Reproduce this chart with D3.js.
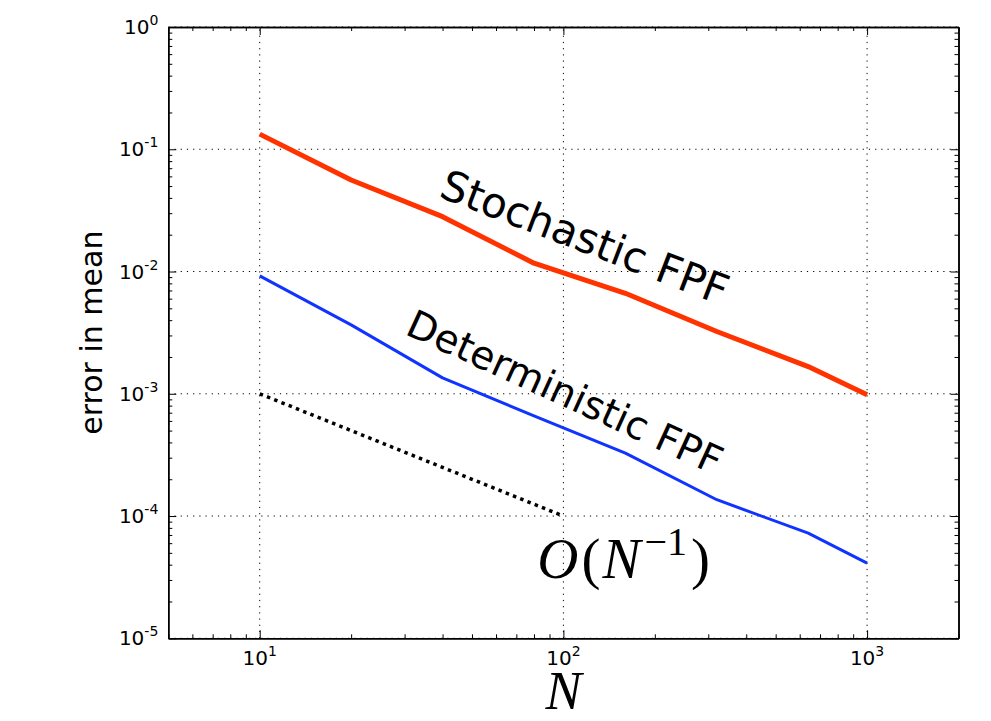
<!DOCTYPE html>
<html>
<head>
<meta charset="utf-8">
<script src="https://cdn.jsdelivr.net/npm/d3@7"></script>
<style>
  body { margin: 0; background: #fff; }
  .grid line { stroke: #000; stroke-width: 1; stroke-dasharray: 1.2,5; }
  .axis path, .axis line { stroke: #000; }
  .axis path { stroke-width: 1.5; }
  text { font-family: "DejaVu Sans", sans-serif; fill: #000; }
</style>
</head>
<body>
<div id="chartArea"></div>
<script>
// data
let nValues = [10, 20, 40, 80, 160, 320, 640, 1000];
let stochasticErr = [0.133, 0.056, 0.0281, 0.0117, 0.00664, 0.00323, 0.00167, 0.00098];
let deterministicErr = [0.0092, 0.00366, 0.00135, 0.00066, 0.000327, 0.000136, 0.0000724, 0.0000412];
let refN = [10, 100];
let refErr = [1e-3, 1e-4];

let xTickExps = [1, 2, 3];
let yTickExps = [0, -1, -2, -3, -4, -5];

function drawGraph() {

    let width = 991, height = 721;
    let margins = { top: 27, right: 32.5, bottom: 82.7, left: 168.3 };

    let svg = d3.select('#chartArea')
        .append('svg')
            .attr('width', width)
            .attr('height', height);

    let xScale = d3.scaleLog()
        .domain([5, 2000])
        .range([margins.left, width - margins.right]);

    let yScale = d3.scaleLog()
        .domain([1e-5, 1])
        .range([height - margins.bottom, margins.top]);

    let x0 = margins.left, x1 = width - margins.right;
    let y0 = height - margins.bottom, y1 = margins.top;

    let isMajor = v => Math.abs(Math.log10(v) - Math.round(Math.log10(v))) < 1e-9;
    let xMajor = xScale.ticks().filter(isMajor);
    let xMinor = xScale.ticks().filter(v => !isMajor(v));
    let yMajor = yScale.ticks().filter(isMajor);
    let yMinor = yScale.ticks().filter(v => !isMajor(v));

    // grid lines (dotted)
    let grid = svg.append('g').attr('class', 'grid');
    grid.selectAll('.gx')
        .data(xMajor)
        .enter().append('line')
            .attr('x1', d => xScale(d)).attr('x2', d => xScale(d))
            .attr('y1', y0).attr('y2', y1);
    grid.selectAll('.gy')
        .data(yMajor)
        .enter().append('line')
            .attr('y1', d => yScale(d)).attr('y2', d => yScale(d))
            .attr('x1', x0).attr('x2', x1);

    // clip for the data lines
    svg.append('clipPath').attr('id', 'plotClip')
        .append('rect')
            .attr('x', x0).attr('y', y1)
            .attr('width', x1 - x0).attr('height', y0 - y1);

    let line = d3.line()
        .x(d => xScale(d[0]))
        .y(d => yScale(d[1]));

    let plot = svg.append('g').attr('clip-path', 'url(#plotClip)');

    plot.append('path')
        .attr('d', line(d3.zip(refN, refErr)))
        .attr('fill', 'none')
        .attr('stroke', '#000')
        .attr('stroke-width', 3.5)
        .attr('stroke-dasharray', '3.5,4.3');

    plot.append('path')
        .attr('d', line(d3.zip(nValues, deterministicErr)))
        .attr('fill', 'none')
        .attr('stroke', '#1133ff')
        .attr('stroke-width', 3)
        .attr('stroke-linejoin', 'round');

    plot.append('path')
        .attr('d', line(d3.zip(nValues, stochasticErr)))
        .attr('fill', 'none')
        .attr('stroke', '#ff3300')
        .attr('stroke-width', 5)
        .attr('stroke-linejoin', 'round');

    // axes on all four sides, ticks pointing in
    let noLabel = () => '';
    let addAxis = (axisFn, scale, transform, major, minor) => {
        svg.append('g')
            .attr('class', 'axis')
            .attr('transform', transform)
            .call(axisFn(scale).tickValues(minor).tickSize(-4).tickSizeOuter(0).tickFormat(noLabel));
        svg.append('g')
            .attr('class', 'axis')
            .attr('transform', transform)
            .call(axisFn(scale).tickValues(major).tickSize(-8).tickSizeOuter(0).tickFormat(noLabel));
    };
    addAxis(d3.axisBottom, xScale, 'translate(0,' + y0 + ')', xMajor, xMinor);
    addAxis(d3.axisTop, xScale, 'translate(0,' + y1 + ')', xMajor, xMinor);
    addAxis(d3.axisLeft, yScale, 'translate(' + x0 + ',0)', yMajor, yMinor);
    addAxis(d3.axisRight, yScale, 'translate(' + x1 + ',0)', yMajor, yMinor);

    // tick labels 10^k
    let xl = svg.selectAll('.xlab')
        .data(xTickExps)
        .enter().append('text')
            .attr('x', d => xScale(Math.pow(10, d)))
            .attr('y', y0 + 27)
            .attr('text-anchor', 'middle')
            .style('font-size', '20px');
    xl.append('tspan').text('10');
    xl.append('tspan').attr('dy', -9).style('font-size', '14px').text(d => d);

    let yl = svg.selectAll('.ylab')
        .data(yTickExps)
        .enter().append('text')
            .attr('x', x0 - 10)
            .attr('y', d => yScale(Math.pow(10, d)) + 7)
            .attr('text-anchor', 'end')
            .style('font-size', '20px');
    yl.append('tspan').text('10');
    yl.append('tspan').attr('dy', -9).style('font-size', '14px').text(d => d);

    // axis titles
    svg.append('text')
        .attr('transform', 'translate(' + 102 + ',' + ((y0 + y1) / 2) + ') rotate(-90)')
        .attr('text-anchor', 'middle')
        .style('font-size', '30px')
        .text('error in mean');

    svg.append('text')
        .attr('x', (x0 + x1) / 2)
        .attr('y', 709)
        .attr('text-anchor', 'middle')
        .style('font-family', '"Liberation Serif", serif')
        .style('font-style', 'italic')
        .style('font-size', '54px')
        .text('N');

    // annotations, anchored in data space
    svg.append('text')
        .attr('transform', 'translate(' + xScale(38.5) + ',' + yScale(0.041) + ') rotate(21)')
        .style('font-size', '42px')
        .text('Stochastic FPF');

    svg.append('text')
        .attr('transform', 'translate(' + xScale(29.8) + ',' + yScale(0.0031) + ') rotate(24.5)')
        .style('font-size', '39px')
        .text('Deterministic FPF');

    let big = svg.append('text')
        .attr('x', xScale(82))
        .attr('y', yScale(3.1e-5))
        .style('font-family', '"Liberation Serif", serif')
        .style('font-size', '57px');
    big.append('tspan').style('font-style', 'italic').text('O');
    big.append('tspan').attr('dx', 3).text('(');
    big.append('tspan').attr('dx', 2).style('font-style', 'italic').text('N');
    big.append('tspan').attr('dx', 4).attr('dy', -23).style('font-size', '40px').text('\u22121');
    big.append('tspan').attr('dx', 4).attr('dy', 23).text(')');
}

drawGraph();
</script>
</body>
</html>
